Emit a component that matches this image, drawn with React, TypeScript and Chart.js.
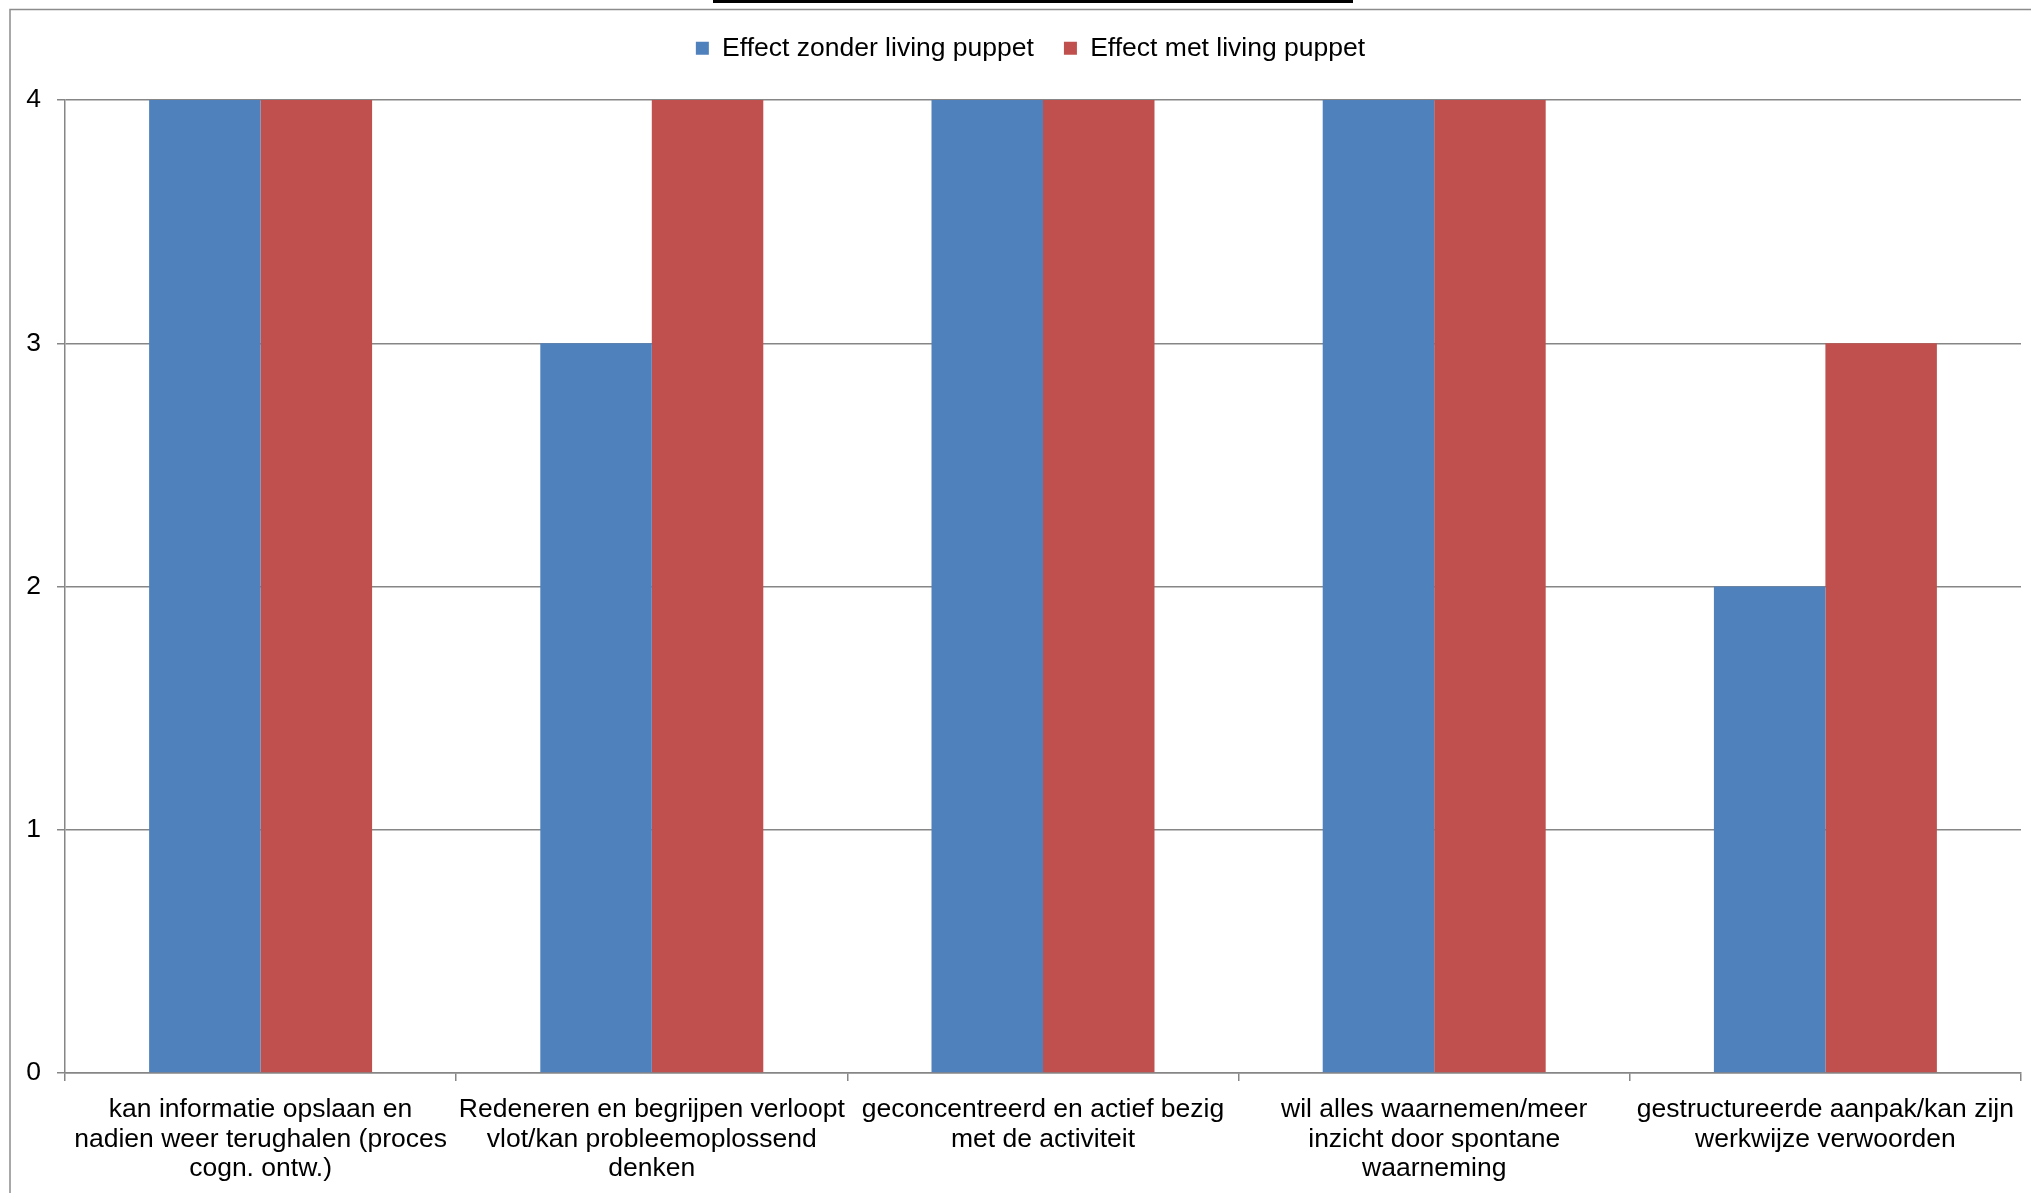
import React, { useEffect, useRef } from "react";
import { Chart, registerables } from "chart.js";

Chart.register(...registerables);

const categories: string[][] = [
  ["kan informatie opslaan en", "nadien weer terughalen (proces", "cogn. ontw.)"],
  ["Redeneren en begrijpen verloopt", "vlot/kan probleemoplossend", "denken"],
  ["geconcentreerd en actief bezig", "met de activiteit"],
  ["wil alles waarnemen/meer", "inzicht door spontane", "waarneming"],
  ["gestructureerde aanpak/kan zijn", "werkwijze verwoorden"],
];
const seriesNames = ["Effect zonder living puppet", "Effect met living puppet"];
const zonderValues = [4, 3, 4, 4, 2];
const metValues = [4, 4, 4, 4, 3];
const yTicks = [0, 1, 2, 3, 4];

const FONT = "'Liberation Sans', Arial, sans-serif";
const FS = 26.5;
const GRID = "#868686";

const framePlugin = {
  id: "frame",
  beforeDraw(chart: any) {
    const ctx = chart.ctx;
    ctx.save();
    ctx.fillStyle = "#ffffff";
    ctx.fillRect(0, 0, chart.width, chart.height);
    ctx.strokeStyle = "#8c8c8c";
    ctx.lineWidth = 1.5;
    ctx.strokeRect(10, 9.5, chart.width + 50, chart.height + 50);
    // cut-off title underline at the very top
    ctx.fillStyle = "#000000";
    ctx.fillRect(713, 0, 640, 3);
    ctx.restore();
  },
};

const legendShift = {
  id: "legendShift",
  afterLayout(chart: any) {
    if (chart.legend) {
      chart.legend.left += 20;
      chart.legend.right += 20;
    }
  },
};

export default function App() {
  const ref = useRef<HTMLCanvasElement>(null);
  useEffect(() => {
    if (!ref.current) return;
    const chart = new Chart(ref.current, {
      type: "bar",
      data: {
        labels: categories,
        datasets: [
          { label: seriesNames[0], data: zonderValues, backgroundColor: "#4F81BD" },
          { label: seriesNames[1], data: metValues, backgroundColor: "#C0504D" },
        ],
      },
      plugins: [framePlugin, legendShift],
      options: {
        animation: false,
        responsive: false,
        devicePixelRatio: 1,
        datasets: { bar: { categoryPercentage: 0.57, barPercentage: 1 } },
        layout: { padding: { left: 0, right: 10, top: 5, bottom: 0 } },
        plugins: {
          // blank spacer box placed between legend and plot area
          title: {
            display: true,
            text: "",
            weight: 0,
            font: { size: 10, lineHeight: 1 },
            padding: { top: 0, bottom: 18.5 },
          },
          tooltip: { enabled: false },
          legend: {
            display: true,
            position: "top",
            labels: {
              boxWidth: 13,
              boxHeight: 13,
              padding: 30,
              color: "#000",
              font: { family: FONT, size: FS },
            },
          },
        },
        scales: {
          x: {
            grid: {
              offset: true,
              drawOnChartArea: false,
              color: GRID,
              tickLength: 8,
              lineWidth: 1.5,
            },
            border: { color: GRID, width: 1.5 },
            ticks: {
              color: "#000",
              font: { family: FONT, size: FS, lineHeight: 1.125 },
              padding: 13.5,
              maxRotation: 0,
              autoSkip: false,
            },
            afterFit: (s: any) => {
              s.height = 120;
            },
          },
          y: {
            min: 0,
            max: 4,
            afterBuildTicks: (s: any) => {
              s.ticks = yTicks.map((v) => ({ value: v }));
            },
            grid: { color: GRID, tickLength: 8, lineWidth: 1.5 },
            border: { color: GRID, width: 1.5 },
            ticks: {
              color: "#000",
              font: { family: FONT, size: FS },
              padding: 16,
            },
            afterFit: (s: any) => {
              s.width = 65;
            },
          },
        },
      },
    });
    return () => chart.destroy();
  }, []);
  return (
    <div style={{ position: "fixed", left: 0, top: 0, width: 2031, height: 1193, background: "#fff" }}>
      <canvas ref={ref} width={2031} height={1193} style={{ display: "block" }} />
    </div>
  );
}
